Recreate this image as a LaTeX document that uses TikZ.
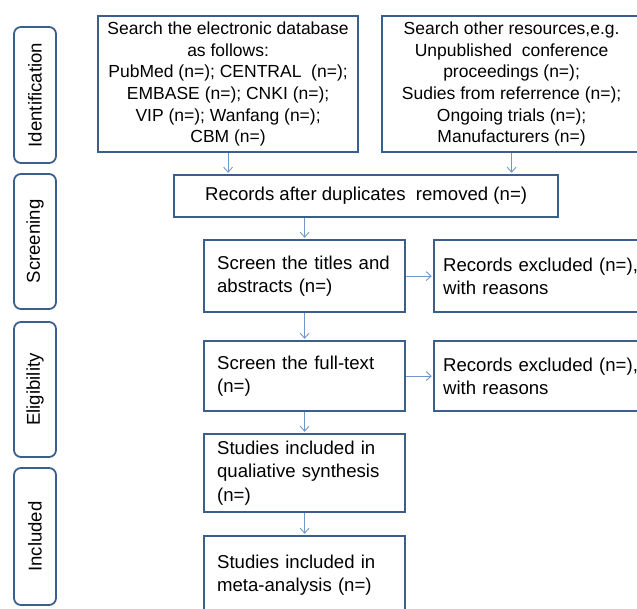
\documentclass[tikz,border=0pt]{standalone}
\usepackage{fontspec}
\setmainfont{Liberation Sans}
\usetikzlibrary{
  arrows.meta,
  positioning,
  calc
}
\definecolor{prBorder}{HTML}{3B5F8D}
\definecolor{prArrow}{HTML}{7098CB}
\tikzset{
  prnode/.style={
    draw=prBorder, line width=2.2pt, fill=white, anchor=north west,
    inner ysep=2pt, font=\fontsize{18.6}{23.3}\selectfont
  },
  srcbox/.style={prnode, align=center, inner xsep=0pt,
    font=\fontsize{17.5}{21.7}\selectfont},
  midbox/.style={prnode, align=center, inner xsep=0pt},
  stepbox/.style={prnode, align=left, inner xsep=13pt, text width=175pt},
  exclbox/.style={prnode, align=left, inner xsep=9pt, text width=205pt},
  phase/.style={
    draw=prBorder, line width=1.8pt, rounded corners=7pt, rotate=90,
    minimum height=42pt, font=\fontsize{18.6}{22}\selectfont
  },
  flow/.style={-{Straight Barb[length=5pt, width=9pt]}, line width=0.9pt,
    prArrow, shorten >=1.2pt}
}
\begin{document}
\begin{tikzpicture}[x=1pt, y=-1pt]
  \useasboundingbox (0,0) rectangle (637,609);
  % phase labels
  \node[phase, minimum width=136pt] (ident) at (35,95) {Identification};
  \node[phase, minimum width=135pt] (screen) at (35,241.5) {Screening};
  \node[phase, minimum width=135pt] (elig) at (35,389.5) {Eligibility};
  \node[phase, minimum width=137pt] (incl) at (35,536.5) {Included};
  % search boxes
  \node[srcbox, minimum width=260pt, minimum height=136pt] (db) at (97,15)
    {Search the electronic database\\as follows:\\PubMed (n=); CENTRAL\ \ (n=);\\EMBASE (n=); CNKI (n=);\\VIP (n=); Wanfang (n=);\\CBM (n=)};
  \node[srcbox, minimum width=259pt, minimum height=136pt] (other) at (381,15)
    {Search other resources,e.g.\\Unpublished\ \ conference\\proceedings (n=);\\Sudies from referrence (n=);\\Ongoing trials (n=);\\Manufacturers (n=)};
  \node[midbox, minimum width=384pt, minimum height=42pt] (dedup) at (173,174)
    {Records after duplicates\ \ removed (n=)};
  % screening and selection
  \node[stepbox, minimum height=72pt] (titles) at (203,239)
    {Screen the titles and\\abstracts (n=)};
  \node[exclbox, minimum height=72pt] (excl1) at (433,239)
    {Records excluded (n=),\\with reasons};
  \node[stepbox, minimum height=70pt] (fulltext) at (203,340)
    {Screen the full-text\\(n=)};
  \node[exclbox, minimum height=70pt] (excl2) at (433,340)
    {Records excluded (n=),\\with reasons};
  \node[stepbox, minimum height=78pt] (qual) at (203,433)
    {Studies included in\\qualiative synthesis\\(n=)};
  \node[stepbox, minimum height=78pt] (meta) at (203,535)
    {Studies included in\\meta-analysis (n=)};
  % connectors
  \draw[flow] (db.south) -- (db.south |- dedup.north);
  \draw[flow] (other.south) -- (other.south |- dedup.north);
  \draw[flow] (dedup.south -| titles.north) -- (titles.north);
  \draw[flow] (titles) -- (excl1);
  \draw[flow] (titles) -- (fulltext);
  \draw[flow] (fulltext) -- (excl2);
  \draw[flow] (fulltext) -- (qual);
  \draw[flow] (qual) -- (meta);
\end{tikzpicture}
\end{document}
